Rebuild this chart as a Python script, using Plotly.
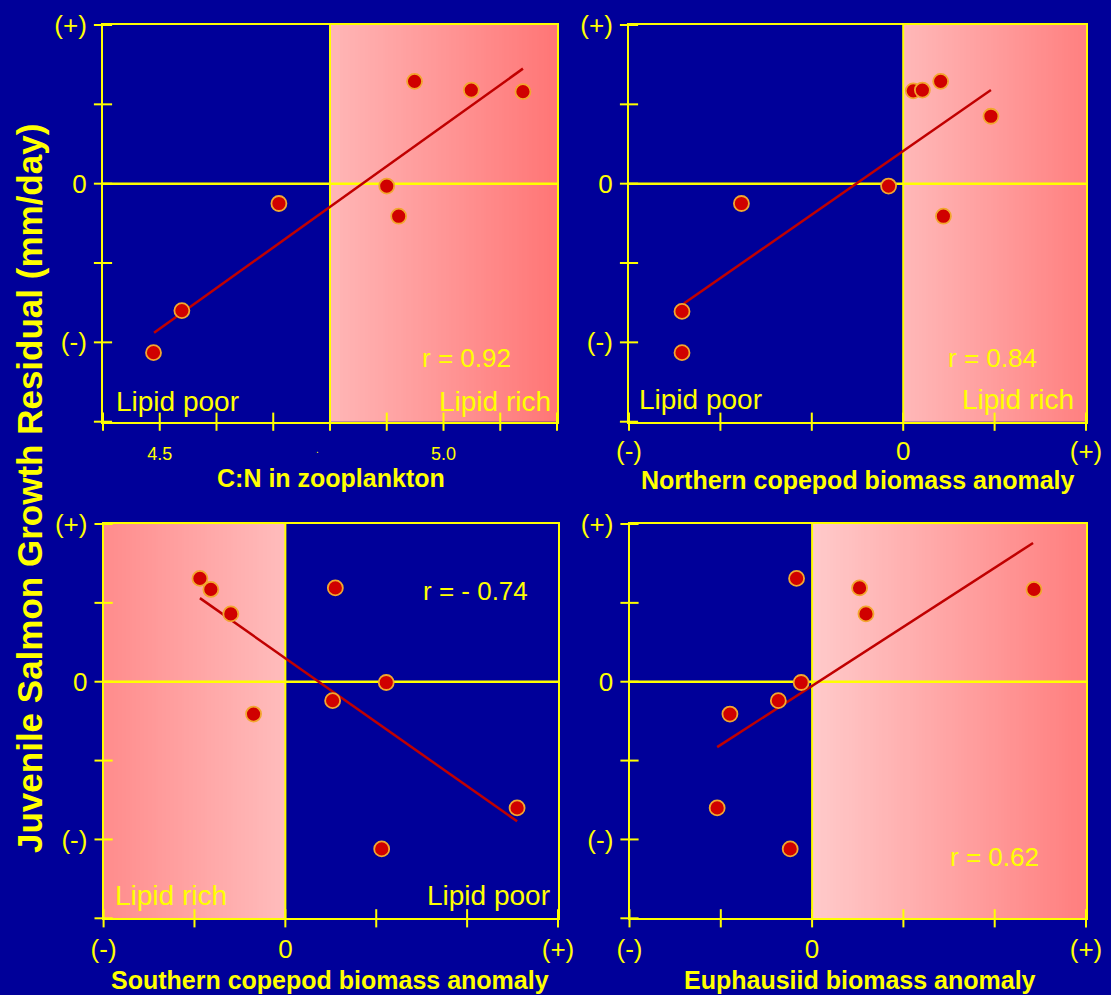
import plotly.graph_objects as go

W, H = 1111, 995
BG = "#000099"
YEL = "#FFFF00"
FONT = "Arial, Liberation Sans, sans-serif"

# ---------------- data ----------------
cn_x = [4.489, 4.539, 4.710, 4.900, 4.921, 4.949, 5.049, 5.140]
cn_y = [-2.13, -1.60, -0.25, -0.03, -0.41, 1.29, 1.18, 1.16]
cn_fit_x = [4.49, 5.14]
cn_fit_y = [-1.88, 1.45]

north_x = [-2.42, -2.42, -1.77, -0.16, 0.11, 0.21, 0.41, 0.44, 0.96]
north_y = [-1.61, -2.13, -0.25, -0.03, 1.17, 1.18, 1.29, -0.41, 0.85]
north_fit_x = [-2.40, 0.96]
north_fit_y = [-1.51, 1.18]

south_x = [-0.94, -0.82, -0.60, -0.35, 0.55, 0.52, 1.11, 1.06, 2.55]
south_y = [1.31, 1.17, 0.86, -0.41, 1.19, -0.24, -0.01, -2.12, -1.60]
south_fit_x = [-0.94, 2.55]
south_fit_y = [1.06, -1.77]

euph_x = [-0.17, 0.52, 0.59, -0.12, -0.37, -0.90, -1.04, -0.24, 2.43]
euph_y = [1.31, 1.19, 0.86, -0.01, -0.24, -0.41, -1.60, -2.12, 1.17]
euph_fit_x = [-1.04, 2.42]
euph_fit_y = [-0.83, 1.76]

# tick positions and labels
y_range = [-3, 2]
y_ticks = [-3, -2, -1, 0, 1, 2]
y_label_vals = [-2, 0, 2]
y_label_text = ["(-)", "0", "(+)"]

cn_range = [4.4, 5.2]
cn_ticks = [4.4, 4.5, 4.6, 4.7, 4.8, 4.9, 5.0, 5.1, 5.2]
cn_label_vals = [4.5, 5.0]
cn_label_text = ["4.5", "5.0"]

north_range = [-3, 2]
north_ticks = [-3, -2, -1, 0, 1, 2]
north_label_vals = [-3, 0, 2]

ss_range = [-2, 3]
ss_ticks = [-2, -1, 0, 1, 2, 3]
ss_label_vals = [-2, 0, 3]
pm_text = ["(-)", "0", "(+)"]

panels = [
    dict(x=cn_x, y=cn_y, fx=cn_fit_x, fy=cn_fit_y, xr=cn_range, xt=cn_ticks,
         lv=cn_label_vals, lt=cn_label_text, lsize=18, lstand=15,
         shade=[4.8, 5.2], c0=(255, 182, 182), c1=(255, 118, 118), bound=4.8,
         dom_x=[103, 557], dom_y=[25, 421.7]),
    dict(x=north_x, y=north_y, fx=north_fit_x, fy=north_fit_y, xr=north_range, xt=north_ticks,
         lv=north_label_vals, lt=pm_text, lsize=26, lstand=5,
         shade=[0, 2], c0=(255, 184, 184), c1=(255, 128, 128), bound=0,
         dom_x=[629, 1086], dom_y=[25, 421.7]),
    dict(x=south_x, y=south_y, fx=south_fit_x, fy=south_fit_y, xr=ss_range, xt=ss_ticks,
         lv=ss_label_vals, lt=pm_text, lsize=26, lstand=6,
         shade=[-2, 0], c0=(255, 140, 140), c1=(255, 188, 188), bound=0,
         dom_x=[103.6, 558], dom_y=[524, 918.3]),
    dict(x=euph_x, y=euph_y, fx=euph_fit_x, fy=euph_fit_y, xr=ss_range, xt=ss_ticks,
         lv=ss_label_vals, lt=pm_text, lsize=26, lstand=6,
         shade=[0, 3], c0=(255, 202, 202), c1=(255, 126, 126), bound=0,
         dom_x=[629.5, 1086], dom_y=[524, 918.3]),
]

fig = go.Figure()
layout = {}
NCOL = 90
for i, p in enumerate(panels):
    sfx = "" if i == 0 else str(i + 1)
    xa, ya = "x" + sfx, "y" + sfx
    # gradient shading
    s0, s1 = p["shade"]
    dx = (s1 - s0) / NCOL
    cols = list(range(NCOL))
    c0 = "rgb(%d,%d,%d)" % p["c0"]
    c1 = "rgb(%d,%d,%d)" % p["c1"]
    fig.add_trace(go.Heatmap(z=[cols, cols], x0=s0 + dx / 2, dx=dx,
                             y0=y_range[0] + 1.25, dy=2.5,
                             colorscale=[[0, c0], [1, c1]], showscale=False,
                             hoverinfo="skip", xaxis=xa, yaxis=ya))
    # zero line and boundary line
    fig.add_trace(go.Scatter(x=p["xr"], y=[0, 0], mode="lines",
                             line=dict(color=YEL, width=2.5), hoverinfo="skip",
                             xaxis=xa, yaxis=ya))
    fig.add_trace(go.Scatter(x=[p["bound"], p["bound"]], y=y_range, mode="lines",
                             line=dict(color=YEL, width=2), hoverinfo="skip",
                             xaxis=xa, yaxis=ya))
    # regression line
    fig.add_trace(go.Scatter(x=p["fx"], y=p["fy"], mode="lines",
                             line=dict(color="#C00000", width=2.5),
                             xaxis=xa, yaxis=ya))
    # points
    fig.add_trace(go.Scatter(x=p["x"], y=p["y"], mode="markers",
                             marker=dict(size=15, color="#D00000",
                                         line=dict(color="#F2A72E", width=1.8)),
                             xaxis=xa, yaxis=ya))
    # crossing tick marks
    fig.add_trace(go.Scatter(x=p["xt"], y=[y_range[0]] * len(p["xt"]), mode="markers",
                             marker=dict(symbol="line-ns", size=13,
                                         line=dict(color=YEL, width=2)),
                             cliponaxis=False, hoverinfo="skip", xaxis=xa, yaxis=ya))
    fig.add_trace(go.Scatter(x=[p["xr"][0]] * len(y_ticks), y=y_ticks, mode="markers",
                             marker=dict(symbol="line-ew", size=13,
                                         line=dict(color=YEL, width=2)),
                             cliponaxis=False, hoverinfo="skip", xaxis=xa, yaxis=ya))

    dxp = [p["dom_x"][0] / W, p["dom_x"][1] / W]
    dyp = [1 - p["dom_y"][1] / H, 1 - p["dom_y"][0] / H]
    layout["xaxis" + sfx] = dict(domain=dxp, range=p["xr"], anchor=ya, showline=True,
                                 linecolor=YEL, linewidth=2, mirror=True, showgrid=False,
                                 zeroline=False, ticks="", tickmode="array",
                                 tickvals=p["lv"], ticktext=p["lt"], automargin=False,
                                 tickfont=dict(color=YEL, size=p["lsize"], family=FONT),
                                 ticklabelstandoff=p["lstand"], fixedrange=True)
    layout["yaxis" + sfx] = dict(domain=dyp, range=y_range, anchor=xa, showline=True,
                                 linecolor=YEL, linewidth=2, mirror=True, showgrid=False,
                                 zeroline=False, ticks="", tickmode="array",
                                 tickvals=y_label_vals, ticktext=y_label_text,
                                 automargin=False,
                                 tickfont=dict(color=YEL, size=26, family=FONT),
                                 ticklabelstandoff=9, fixedrange=True)


def ann(text, px, py, size, bold=False, angle=0):
    return dict(text=("<b>%s</b>" % text) if bold else text, x=px / W, y=1 - py / H,
                xref="paper", yref="paper", xanchor="center", yanchor="middle",
                showarrow=False, textangle=angle,
                font=dict(color=YEL, size=size, family=FONT))


annotations = [
    ann("Juvenile Salmon Growth Residual (mm/day)", 29, 489, 35, bold=True, angle=-90),
    ann("C:N in zooplankton", 331, 478, 25, bold=True),
    ann(".", 317, 450, 10),
    ann("Northern copepod biomass anomaly", 858, 480, 25, bold=True),
    ann("Southern copepod biomass anomaly", 330, 980, 25, bold=True),
    ann("Euphausiid biomass anomaly", 860, 980, 25, bold=True),
    ann("Lipid poor", 177, 401, 28),
    ann("Lipid rich", 495, 401, 28),
    ann("r = 0.92", 466, 358, 26),
    ann("Lipid poor", 700, 400, 28),
    ann("Lipid rich", 1018, 400, 28),
    ann("r = 0.84", 992, 358, 26),
    ann("Lipid rich", 171, 895, 28),
    ann("Lipid poor", 488, 895, 28),
    ann("r = - 0.74", 475, 591, 26),
    ann("r = 0.62", 995, 857, 26),
]

fig.update_layout(width=W, height=H, margin=dict(l=0, r=0, t=0, b=0, pad=0),
                  paper_bgcolor=BG, plot_bgcolor=BG, showlegend=False,
                  annotations=annotations, **layout)

fig.write_html("out.html", config={"displayModeBar": False},
               post_script="document.body.style.margin='0';"
                           "document.body.style.backgroundColor='#000099';")
